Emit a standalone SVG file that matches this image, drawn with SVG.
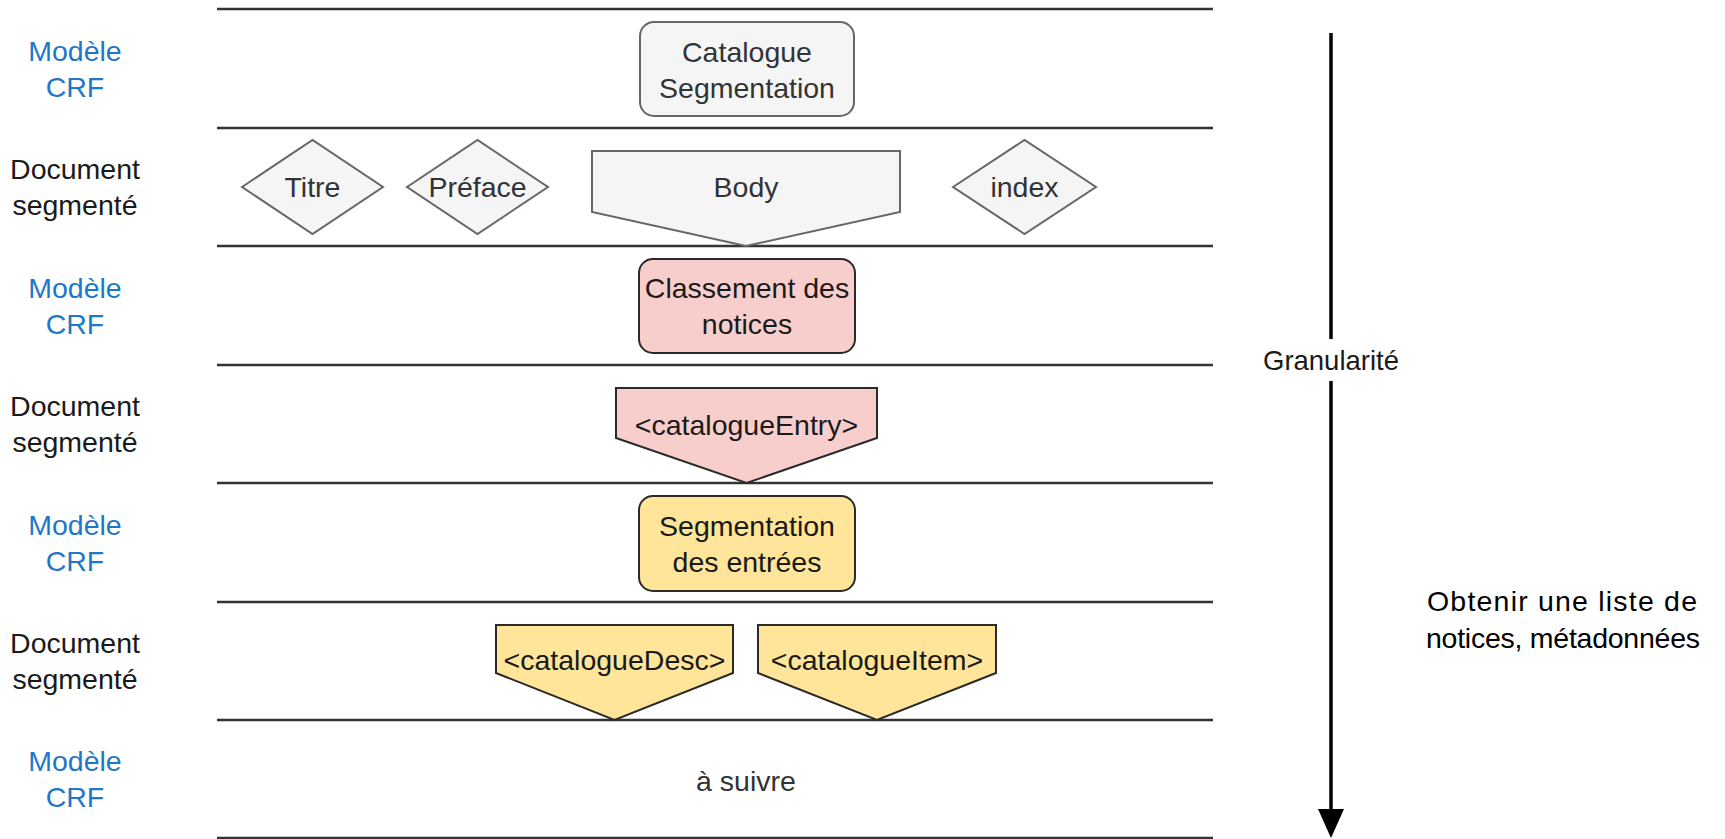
<svg xmlns="http://www.w3.org/2000/svg" width="1725" height="839" viewBox="0 0 1725 839">
<style>
text{font-family:"Liberation Sans",Arial,sans-serif;font-size:28.5px;text-anchor:middle}
.lbl{fill:#1f77c9}
.doc{fill:#1a1a1a}
.sep{stroke:#333;stroke-width:2.5}
.gray{fill:#f5f5f5;stroke:#666;stroke-width:2}
.red{fill:#f8cecc;stroke:#2a2a2a;stroke-width:2}
.yel{fill:#ffe599;stroke:#2a2a2a;stroke-width:2}
.tg{fill:#333}
.td{fill:#1a1a1a}
</style>
<rect width="1725" height="839" fill="#fff"/>
<g id="separators">
<line class="sep" x1="217" y1="9" x2="1213" y2="9"/>
<line class="sep" x1="217" y1="128" x2="1213" y2="128"/>
<line class="sep" x1="217" y1="246" x2="1213" y2="246"/>
<line class="sep" x1="217" y1="365" x2="1213" y2="365"/>
<line class="sep" x1="217" y1="483" x2="1213" y2="483"/>
<line class="sep" x1="217" y1="602" x2="1213" y2="602"/>
<line class="sep" x1="217" y1="720" x2="1213" y2="720"/>
<line class="sep" x1="217" y1="838" x2="1213" y2="838"/>
</g>
<g id="row-labels">
<text class="lbl" x="75" y="61">Modèle</text><text class="lbl" x="75" y="97">CRF</text>
<text class="doc" x="75" y="179">Document</text><text class="doc" x="75" y="215">segmenté</text>
<text class="lbl" x="75" y="298">Modèle</text><text class="lbl" x="75" y="334">CRF</text>
<text class="doc" x="75" y="416">Document</text><text class="doc" x="75" y="452">segmenté</text>
<text class="lbl" x="75" y="535">Modèle</text><text class="lbl" x="75" y="571">CRF</text>
<text class="doc" x="75" y="653">Document</text><text class="doc" x="75" y="689">segmenté</text>
<text class="lbl" x="75" y="771">Modèle</text><text class="lbl" x="75" y="807">CRF</text>
</g>
<g id="catalogue-segmentation">
<rect class="gray" x="640" y="22" width="214" height="94" rx="14"/>
<text class="tg" x="747" y="62">Catalogue</text><text class="tg" x="747" y="98">Segmentation</text>
</g>
<g id="titre">
<polygon class="gray" points="242,187 312.5,140 383,187 312.5,234"/>
<text class="tg" x="312.5" y="197">Titre</text>
</g>
<g id="preface">
<polygon class="gray" points="407,187 477.5,140 548,187 477.5,234"/>
<text class="tg" x="477.5" y="197">Préface</text>
</g>
<g id="body">
<polygon class="gray" points="592,151 900,151 900,212 746,246 592,212"/>
<text class="tg" x="746" y="197">Body</text>
</g>
<g id="index">
<polygon class="gray" points="953,187 1024.5,140 1096,187 1024.5,234"/>
<text class="tg" x="1024.5" y="197">index</text>
</g>
<g id="classement">
<rect class="red" x="639" y="259" width="216" height="94" rx="14"/>
<text class="td" x="747" y="298">Classement des</text><text class="td" x="747" y="334">notices</text>
</g>
<g id="catalogue-entry">
<polygon class="red" points="616,388 877,388 877,438 746.5,483 616,438"/>
<text class="td" x="746.5" y="435">&lt;catalogueEntry&gt;</text>
</g>
<g id="segmentation-entrees">
<rect class="yel" x="639" y="496" width="216" height="95" rx="14"/>
<text class="td" x="747" y="535.5">Segmentation</text><text class="td" x="747" y="571.5">des entrées</text>
</g>
<g id="catalogue-desc">
<polygon class="yel" points="496,625 733,625 733,673 614.5,720 496,673"/>
<text class="td" x="614.5" y="670">&lt;catalogueDesc&gt;</text>
</g>
<g id="catalogue-item">
<polygon class="yel" points="758,625 996,625 996,673 877,720 758,673"/>
<text class="td" x="877" y="670">&lt;catalogueItem&gt;</text>
</g>
<g id="a-suivre">
<text class="tg" x="746" y="790.5">à suivre</text>
</g>
<g id="connectors">
<line x1="1331" y1="33" x2="1331" y2="812" stroke="#000" stroke-width="3.5"/>
<polygon points="1318,809 1344,809 1331,838" fill="#000"/>
</g>
<g id="granularite">
<rect x="1260" y="339" width="142" height="42" fill="#fff"/>
<text x="1331" y="369.5" fill="#1a1a1a" textLength="136" lengthAdjust="spacingAndGlyphs">Granularité</text>
</g>
<g id="objectif">
<text x="1562" y="611" fill="#000" textLength="270" lengthAdjust="spacing">Obtenir une liste de</text>
<text x="1563" y="648" fill="#000" textLength="274" lengthAdjust="spacing">notices, métadonnées</text>
</g>
</svg>
